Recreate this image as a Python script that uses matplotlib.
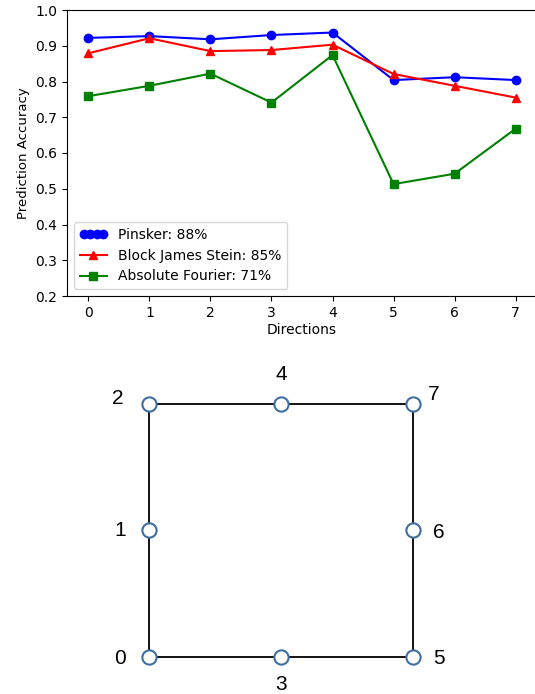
import matplotlib
matplotlib.use("Agg")
import matplotlib.pyplot as plt
from matplotlib.legend_handler import HandlerLine2D

matplotlib.rcParams['font.family'] = 'DejaVu Sans'

directions = [0, 1, 2, 3, 4, 5, 6, 7]
pinsker = [0.922, 0.927, 0.918, 0.930, 0.937, 0.804, 0.812, 0.804]
block_js = [0.879, 0.921, 0.885, 0.888, 0.903, 0.821, 0.788, 0.755]
abs_fourier = [0.759, 0.788, 0.822, 0.741, 0.874, 0.513, 0.542, 0.668]

labels = ["Pinsker: 88%", "Block James Stein: 85%", "Absolute Fourier: 71%"]

# grid layout of the 8 directions (column, row) around the square
node_ids = [0, 1, 2, 3, 4, 5, 6, 7]
node_col = [0, 0, 0, 1, 1, 2, 2, 2]
node_row = [0, 1, 2, 0, 2, 0, 1, 2]
# label offsets in pixels from each node
label_dx = [-29, -29, -32, 0, 0, 26, 26, 21]
label_dy = [-2, 0, 5, -28, 29, -2, -2, 9]

W, H = 535, 694
fig = plt.figure(figsize=(W / 100, H / 100), dpi=100)

ax = fig.add_axes([67 / W, (H - 296) / H, (537 - 67) / W, (296 - 10) / H])
lp, = ax.plot(directions, pinsker, 'o-', color='blue', label=labels[0])
ax.plot(directions, block_js, '^-', color='red', label=labels[1])
ax.plot(directions, abs_fourier, 's-', color='green', label=labels[2])
ax.set_ylim(0.2, 1.0)
ax.set_xlim(-0.35, 7.35)
ax.set_xticks(directions)
ax.spines['right'].set_visible(False)
ax.tick_params(labelsize=10)
ax.set_xlabel("Directions", fontsize=10, labelpad=2)
ax.set_ylabel("Prediction Accuracy", fontsize=9.5)
ax.legend(loc='lower left', fontsize=10, handler_map={lp: HandlerLine2D(numpoints=4)})

# direction diagram
ax2 = fig.add_axes([149.3 / W, (H - 656.7) / H, (412.7 - 149.3) / W, (656.7 - 404) / H])
ax2.set_xlim(0, 2)
ax2.set_ylim(0, 2)
ax2.axis('off')
ax2.plot([0, 2, 2, 0, 0], [0, 0, 2, 2, 0], color='black', lw=1.3, clip_on=False, zorder=1)
ax2.scatter(node_col, node_row, s=105, facecolor='white', edgecolor='#3f6fa0',
            linewidths=1.5, clip_on=False, zorder=2)
for n, c, r, dx, dy in zip(node_ids, node_col, node_row, label_dx, label_dy):
    ax2.annotate(str(n), (c, r), xytext=(dx, dy), textcoords='offset pixels',
                 ha='center', va='center', fontsize=15, family='Liberation Sans',
                 annotation_clip=False)

fig.savefig("out.png", dpi=100)
